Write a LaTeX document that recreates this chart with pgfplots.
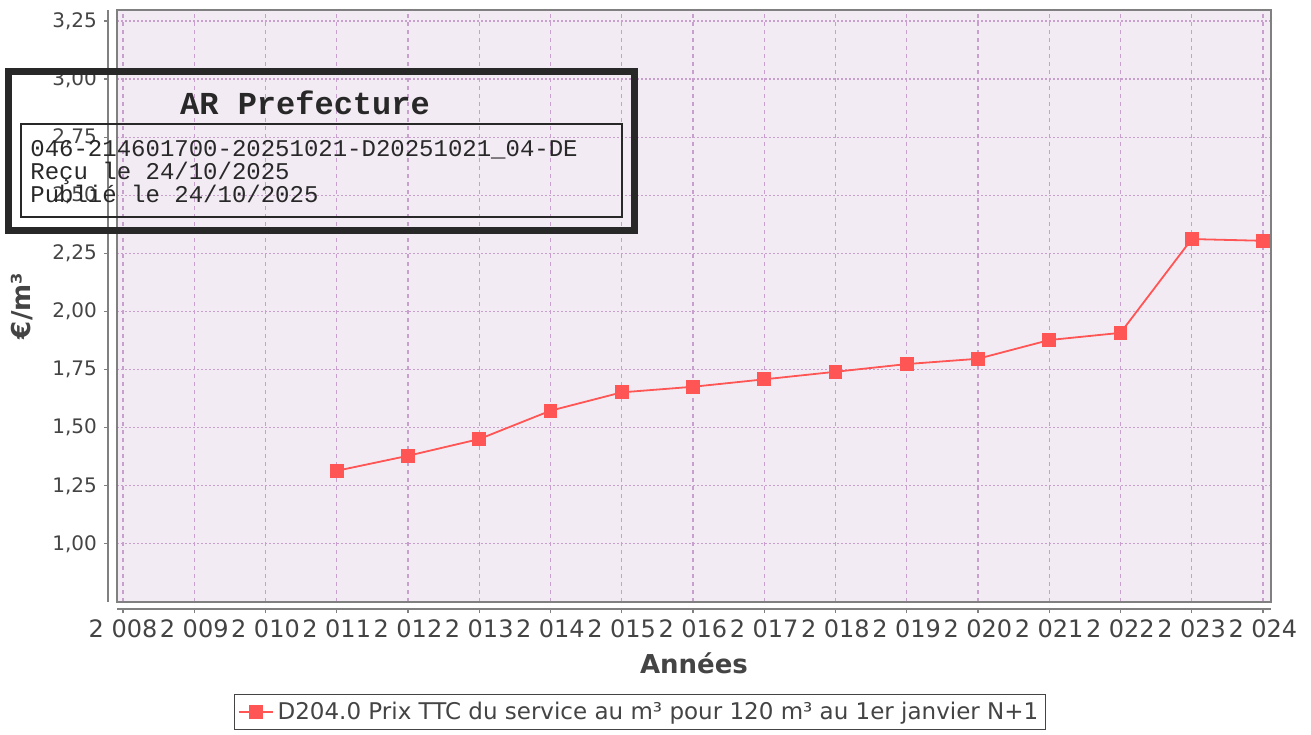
\documentclass[border=0pt]{standalone}
\usepackage{pgfplots}
\pgfplotsset{compat=1.18}
\usepackage{fontspec}
\setmainfont{DejaVu Sans}
\newfontfamily\monofont{Liberation Mono}
\definecolor{bgpink}{RGB}{243,235,243}
\definecolor{gridc}{RGB}{200,160,205}
\definecolor{serie}{RGB}{255,85,85}
\definecolor{axc}{RGB}{128,128,128}
\definecolor{txt}{RGB}{68,68,68}
\definecolor{stamp}{RGB}{40,40,40}
\begin{document}
\begin{tikzpicture}
\path[use as bounding box] (0,0) rectangle (655.5pt,367pt);
\begin{axis}[
  at={(58.5pt,66pt)}, anchor=south west,
  width=577pt, height=296pt, scale only axis,
  xmin=2007.916, xmax=2024.112,
  ymin=0.75, ymax=3.297,
  axis x line*=bottom, axis y line*=left,
  axis x line shift=3.5pt, axis y line shift=4.5pt,
  axis line style={-, draw=axc, line width=0.8pt},
  tick align=outside, major tick length=2pt,
  tick style={draw=axc, line width=0.6pt},
  axis background/.style={fill=bgpink},
  xtick={2008,...,2024},
  xticklabels={2 008,2 009,2 010,2 011,2 012,2 013,2 014,2 015,2 016,2 017,2 018,2 019,2 020,2 021,2 022,2 023,2 024},
  ytick={1,1.25,1.5,1.75,2,2.25,2.5,2.75,3,3.25},
  yticklabels={{1,00},{1,25},{1,50},{1,75},{2,00},{2,25},{2,50},{2,75},{3,00},{3,25}},
  yticklabel style={font=\fontsize{10}{12}\selectfont, text=txt},
  xticklabel style={font=\fontsize{12}{14}\selectfont, text=txt, inner xsep=0pt},
  grid=major,
  x grid style={draw=gridc, line width=0.6pt, dash pattern=on 2pt off 2pt},
  y grid style={draw=gridc, line width=0.6pt, dash pattern=on 1pt off 1pt},
  xlabel={\textbf{Années}},
  ylabel={\textbf{€/m³}},
  xlabel style={at={(axis description cs:0.5,-0.104)}, anchor=center, font=\fontsize{13}{15}\selectfont, text=txt},
  ylabel style={at={(axis description cs:-0.0823,0.5)}, anchor=center, rotate=0, font=\fontsize{13}{15}\selectfont, text=txt},
  legend style={at={(axis description cs:0.4532,-0.1858)}, anchor=center, draw=txt, line width=0.6pt, font=\fontsize{11.5}{13}\selectfont, text=txt, inner sep=1.5pt},
  legend cell align=left,
  clip=false,
]
\addplot[serie, line width=0.9pt, mark=square*, mark size=3pt, mark options={fill=serie, draw=serie}] coordinates {
(2011,1.3145) (2012,1.379) (2013,1.451) (2014,1.573) (2015,1.652) (2016,1.676) (2017,1.708) (2018,1.7405) (2019,1.7737) (2020,1.7965) (2021,1.877) (2022,1.908) (2023,2.3115) (2024,2.304)
};
\addlegendentry{D204.0 Prix TTC du service au m³ pour 120 m³ au 1er janvier N+1}
\draw[axc, line width=0.8pt] (rel axis cs:0,0) rectangle (rel axis cs:1,1);
\end{axis}
\begin{scope}[x=0.5pt,y=0.5pt]
\draw[stamp, line width=3.5pt] (8.5,662) rectangle (634,503.5);
\draw[stamp, line width=1pt] (21,609.5) rectangle (621.5,516.5);
\node[font=\monofont\bfseries\fontsize{16}{18}\selectfont, text=stamp] at (305,631) {AR Prefecture};
\node[font=\monofont\fontsize{12}{14}\selectfont, anchor=base west, inner sep=0pt, text=stamp] at (30,577) {046-214601700-20251021-D20251021\_04-DE};
\node[font=\monofont\fontsize{12}{14}\selectfont, anchor=base west, inner sep=0pt, text=stamp] at (30,554) {Reçu le 24/10/2025};
\node[font=\monofont\fontsize{12}{14}\selectfont, anchor=base west, inner sep=0pt, text=stamp] at (30,531) {Publié le 24/10/2025};
\end{scope}
\end{tikzpicture}
\end{document}
